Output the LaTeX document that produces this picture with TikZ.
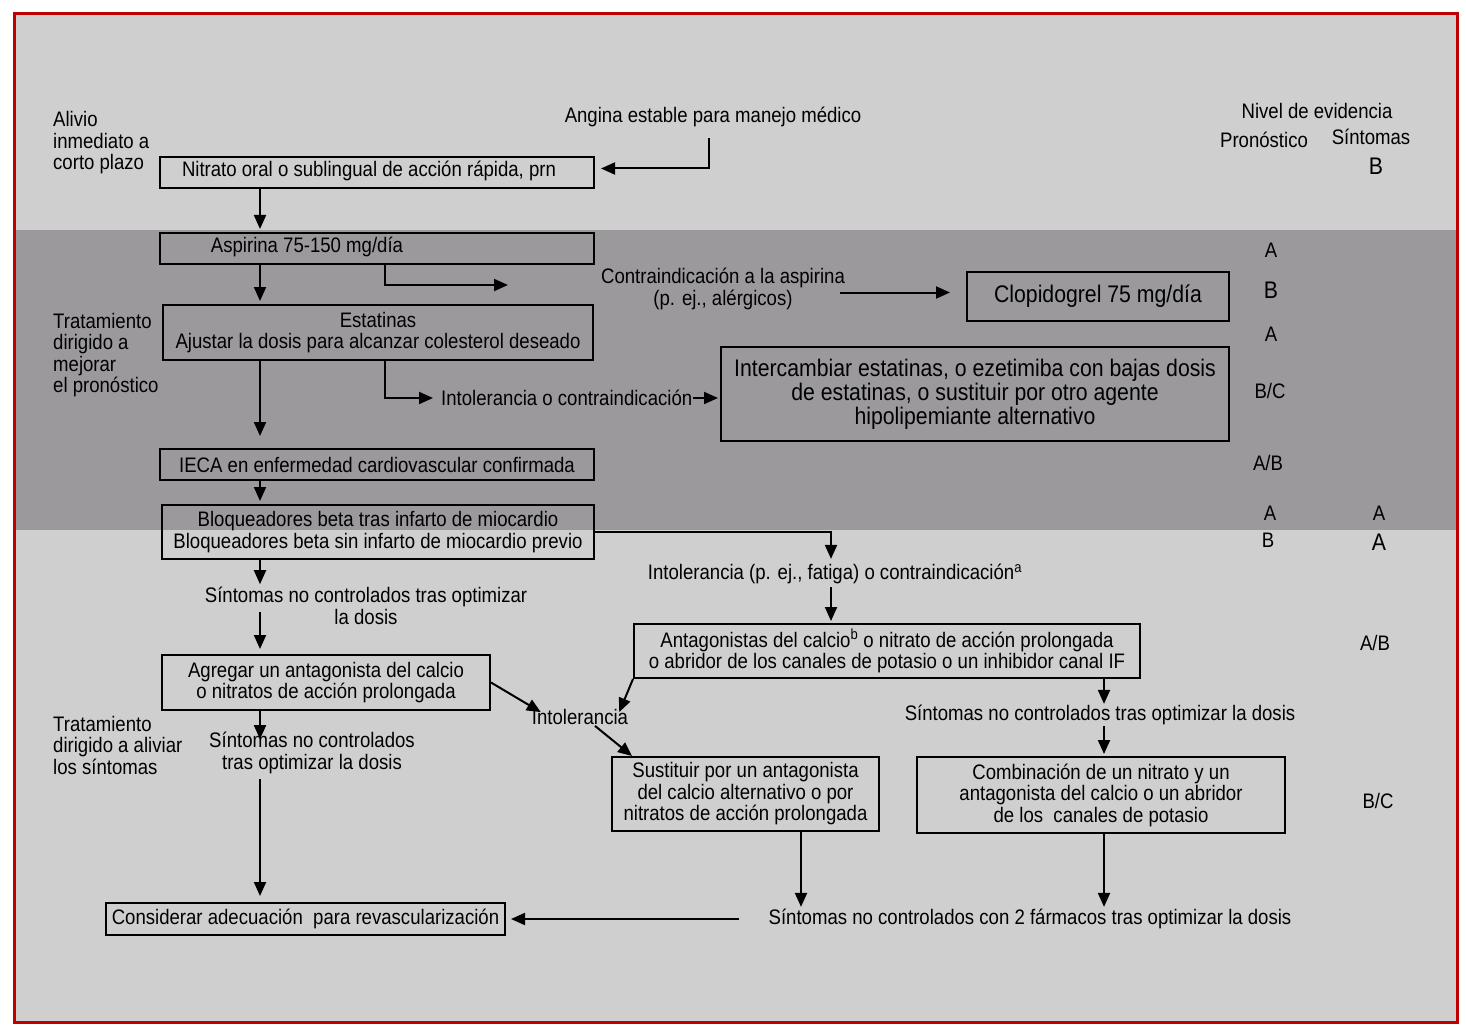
\documentclass[tikz,border=0pt]{standalone}
\usepackage{fontspec}
\setmainfont{Liberation Sans}[FakeStretch=0.885]
\usetikzlibrary{arrows.meta,calc}
\definecolor{bglight}{RGB}{207,207,207}
\definecolor{bgdark}{RGB}{155,153,156}
\definecolor{frame}{RGB}{192,0,0}
\newcommand\fbody{\fontsize{21}{21.5}\selectfont}
\newcommand\fbig{\fontsize{24}{24}\selectfont}
\begin{document}
\begin{tikzpicture}[x=1pt,y=-1pt,
  box/.style={draw, line width=2pt, inner sep=0pt, align=center, font=\fbody},
  txt/.style={inner sep=1pt, align=center, font=\fbody},
  lft/.style={inner sep=0pt, align=left, anchor=west, font=\fbody},
  ev/.style={inner sep=0pt, font=\fbody},
  evb/.style={inner sep=0pt, font=\fbig},
  arr/.style={line width=2pt, -{Triangle[length=14pt,width=12pt]}}]
\useasboundingbox (0,0) rectangle (1466,1032);
\fill[white] (0,0) rectangle (1466,1032);
\fill[bglight] (14,14) rectangle (1457,1022);
\fill[bgdark] (15,230) rectangle (1456,530);
\draw[frame, line width=3pt] (14,14) rectangle (1457,1022);

% x positions of vertical connectors
\coordinate (xL) at (260,0);
\coordinate (xM) at (385,0);
\coordinate (xR) at (831,0);
\coordinate (xS) at (1104,0);
\coordinate (xT) at (801,0);

% left labels
\node[lft] (l1) at (53,143) {Alivio\\inmediato a\\corto plazo};
\node[lft] (l2) at (53,355) {Tratamiento\\dirigido a\\mejorar\\el pronóstico};
\node[lft] (l3) at (53,745) {Tratamiento\\dirigido a aliviar\\los síntomas};

% evidence column
\node[ev] (e0) at (1317,111) {Nivel de evidencia};
\node[ev] (e1) at (1264,140) {Pronóstico};
\node[ev] (e2) at (1371,137) {Síntomas};
\node[evb] (e3) at (1376,166) {B};
\node[ev] (e4) at (1271,250) {A};
\node[evb] (e5) at (1271,290) {B};
\node[ev] (e6) at (1271,334) {A};
\node[ev] (e7) at (1270,391) {B/C};
\node[ev] (e8) at (1268,463) {A/B};
\node[ev] (e9) at (1270,513) {A};
\node[ev] (e10) at (1379,513) {A};
\node[ev] (e11) at (1268,540) {B};
\node[evb] (e12) at (1379,542) {A};
\node[ev] (e13) at (1375,643) {A/B};
\node[ev] (e14) at (1378,801) {B/C};

% boxes
\node[box, minimum width=434, minimum height=31] (nit) at (377,172.5) {};
\node[txt] (nitT) at (369,171) {Nitrato oral o sublingual de acción rápida, prn};
\node[box, minimum width=434, minimum height=31] (asp) at (377,248.5) {};
\node[txt] (aspT) at (307,247) {Aspirina 75-150 mg/día};
\node[box, minimum width=430, minimum height=55] (est) at (378,332.5) {Estatinas\\Ajustar la dosis para alcanzar colesterol deseado};
\node[box, minimum width=434, minimum height=31] (iec) at (377,464.5) {IECA en enfermedad cardiovascular confirmada};
\node[box, minimum width=432, minimum height=54] (bloq) at (378,532) {Bloqueadores beta tras infarto de miocardio\\Bloqueadores beta sin infarto de miocardio previo};
\node[box, font=\fbig, minimum width=262, minimum height=49] (clo) at (1098,296.5) {Clopidogrel 75 mg/día};
\node[box, font=\fbig, minimum width=508, minimum height=94] (inter) at (975,394) {Intercambiar estatinas, o ezetimiba con bajas dosis\\de estatinas, o sustituir por otro agente\\hipolipemiante alternativo};
\node[box, minimum width=506, minimum height=54] (ant) at (887,651) {Antagonistas del calcio\textsuperscript{b} o nitrato de acción prolongada\\o abridor de los canales de potasio o un inhibidor canal IF};
\node[box, minimum width=328, minimum height=55] (agr) at (326,682.5) {Agregar un antagonista del calcio\\o nitratos de acción prolongada};
\node[box, minimum width=267, minimum height=74] (sus) at (745.5,794) {Sustituir por un antagonista\\del calcio alternativo o por\\nitratos de acción prolongada};
\node[box, minimum width=368, minimum height=76] (com) at (1101,795) {Combinación de un nitrato y un\\antagonista del calcio o un abridor\\de los\ \ canales de potasio};
\node[box, minimum width=399, minimum height=32] (con) at (305.5,919) {Considerar adecuación\ \ para revascularización};

% free texts
\node[txt] (angina) at (713,117) {Angina estable para manejo médico};
\node[txt] (contra) at (723,289) {Contraindicación a la aspirina\\(p. ej., alérgicos)};
\node[txt, anchor=west] (intol1) at (440,398) {Intolerancia o contraindicación};
\node[txt] (intol2) at (835,574) {Intolerancia (p. ej., fatiga) o contraindicación\textsuperscript{a}};
\node[txt] (sint1) at (366,606) {Síntomas no controlados tras optimizar\\la dosis};
\node[txt] (intol3) at (580,717) {Intolerancia};
\node[txt] (sint2) at (312,753) {Síntomas no controlados\\tras optimizar la dosis};
\node[txt] (sint3) at (1100,715) {Síntomas no controlados tras optimizar la dosis};
\node[txt] (sint4) at (1030,919) {Síntomas no controlados con 2 fármacos tras optimizar la dosis};
\coordinate (c2) at (508,285);

% connectors
\draw[arr, shorten <=10pt, shorten >=6pt] ([xshift=-4pt]angina.south) |- ([yshift=4pt]nit.east);
\draw[arr, shorten >=3pt] (nit.south -| xL) -- (asp.north -| xL);
\draw[arr] (asp.south -| xM) |- (c2);
\draw[arr, shorten >=3pt] (asp.south -| xL) -- (est.north -| xL);
\draw[arr, shorten <=-6pt, shorten >=16pt] ([yshift=4pt]contra.east |- clo.west) -- ([yshift=4pt]clo.west);
\draw[arr, shorten >=12pt] (est.south -| xL) -- (iec.north -| xL);
\draw[arr, shorten >=7pt] (est.south -| xM) |- (intol1.west);
\draw[arr, shorten >=2pt] (intol1.east) -- (intol1.east -| inter.west);
\draw[arr, shorten >=3pt] (iec.south -| xL) -- (bloq.north -| xL);
\draw[arr, shorten >=4pt] (bloq.east) -| (intol2.north -| xR);
\draw[arr, shorten <=2pt, shorten >=2pt] (intol2.south -| xR) -- (ant.north -| xR);
\draw[arr] (ant.south west) -- ([xshift=-10pt,yshift=-4pt]intol3.north east);
\draw[arr, shorten >=0pt] (ant.south -| xS) -- (sint3.north -| xS);
\draw[arr, shorten >=2pt] (sint3.south -| xS) -- (com.north -| xS);
\draw[arr] (bloq.south -| xL) -- ([yshift=2pt]sint1.north -| xL);
\draw[arr, shorten >=5pt] ([yshift=-6pt]sint1.center -| xL) -- (agr.north -| xL);
\draw[arr] (agr.east) -- ([xshift=10pt,yshift=-4pt]intol3.north west);
\draw[arr] ([xshift=15pt]intol3.south) -- ([xshift=21pt]sus.north west);
\draw[arr] (agr.south -| xL) -- ([yshift=-8pt]sint2.north -| xL);
\draw[arr, shorten <=4pt, shorten >=6pt] (sint2.south -| xL) -- (con.north -| xL);
\draw[arr, shorten <=28pt, shorten >=5pt] (sint4.west) -- (con.east);
\draw[arr, shorten >=1pt] (sus.south -| xT) -- (sint4.north -| xT);
\draw[arr, shorten >=1pt] (com.south -| xS) -- (sint4.north -| xS);
\end{tikzpicture}
\end{document}
